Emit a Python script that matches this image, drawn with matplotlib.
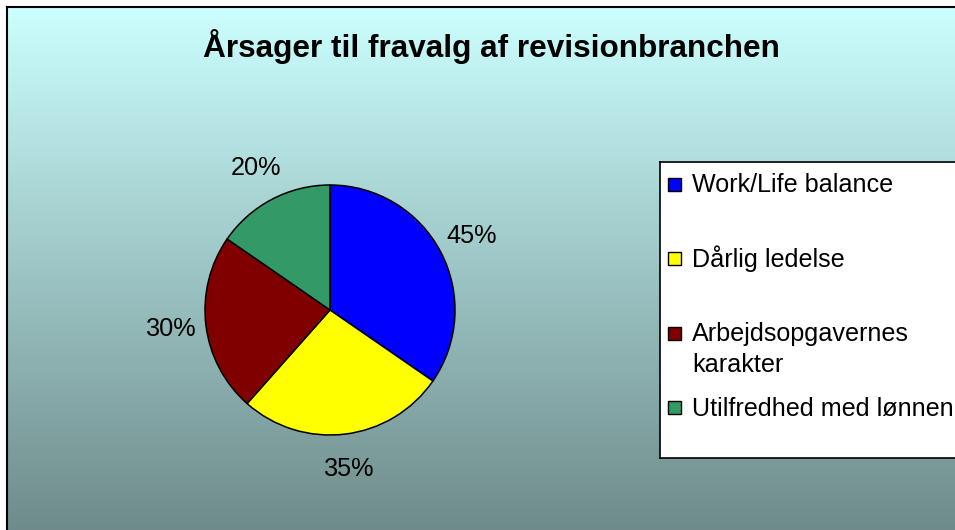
import numpy as np
import matplotlib.pyplot as plt
from matplotlib.colors import LinearSegmentedColormap
from matplotlib.patches import Rectangle

plt.rcParams['font.family'] = ['Liberation Sans', 'DejaVu Sans']

# data
categories = ['Work/Life balance', 'Dårlig ledelse',
              'Arbejdsopgavernes\nkarakter', 'Utilfredhed med lønnen']
values = [45, 35, 30, 20]
pct_labels = ['45%', '35%', '30%', '20%']
colors = ['#0000FF', '#FFFF00', '#800000', '#339966']

W, H = 955, 530
fig = plt.figure(figsize=(W / 100, H / 100), dpi=100, facecolor='white')


def px_axes(left, top, width, height, **kw):
    # axes placed by pixel box measured from the top-left corner
    return fig.add_axes([left / W, 1 - (top + height) / H, width / W, height / H], **kw)


# gradient background with frame on left/top
bg = px_axes(7, 7, W - 7 + 5, H - 7 + 5, zorder=0)
grad_cmap = LinearSegmentedColormap.from_list('bg', ['#CCFFFF', '#6E8A8A'])
bg.imshow(np.linspace(0, 1, 256).reshape(-1, 1), aspect='auto', cmap=grad_cmap,
          extent=(0, 1, 0, 1))
bg.set_xticks([])
bg.set_yticks([])
for side in ['right', 'bottom']:
    bg.spines[side].set_visible(False)
for side in ['left', 'top']:
    bg.spines[side].set_linewidth(1.5)

fig.text(491 / W, 1 - 47 / H, 'Årsager til fravalg af revisionbranchen',
         ha='center', va='center', fontsize=22.7, fontweight='bold', zorder=5)

# pie
r = 125
span = 1.45
ax = px_axes(330 - r * span, 310 - r * span, 2 * r * span, 2 * r * span, zorder=2)
ax.patch.set_visible(False)
wedges, texts = ax.pie(values, colors=colors, startangle=90, counterclock=False,
                       labels=pct_labels, labeldistance=1.28,
                       wedgeprops=dict(edgecolor='black', linewidth=1.1),
                       textprops=dict(fontsize=18.2, color='black'))
for t in texts:
    t.set_ha('center')
    t.set_va('center')
ax.set_xlim(-span, span)
ax.set_ylim(-span, span)
ax.set_aspect('equal')
ax.axis('off')

# legend box
lg = px_axes(660, 162, 310, 296, zorder=3)
lg.set_xlim(0, 310)
lg.set_ylim(296, 0)
lg.set_xticks([])
lg.set_yticks([])
for s in lg.spines.values():
    s.set_linewidth(1.2)
step = 74.5
line_h = 30
for i, (lab, c) in enumerate(zip(categories, colors)):
    yc = 22 + i * step
    lg.add_patch(Rectangle((8, yc - 6.5), 13, 13, facecolor=c, edgecolor='black', linewidth=1.0))
    for j, line in enumerate(lab.split('\n')):
        lg.text(32, yc + 8.5 + j * line_h, line, ha='left', va='baseline',
                fontsize=18.1, color='black')

fig.savefig('out.png', dpi=100)
